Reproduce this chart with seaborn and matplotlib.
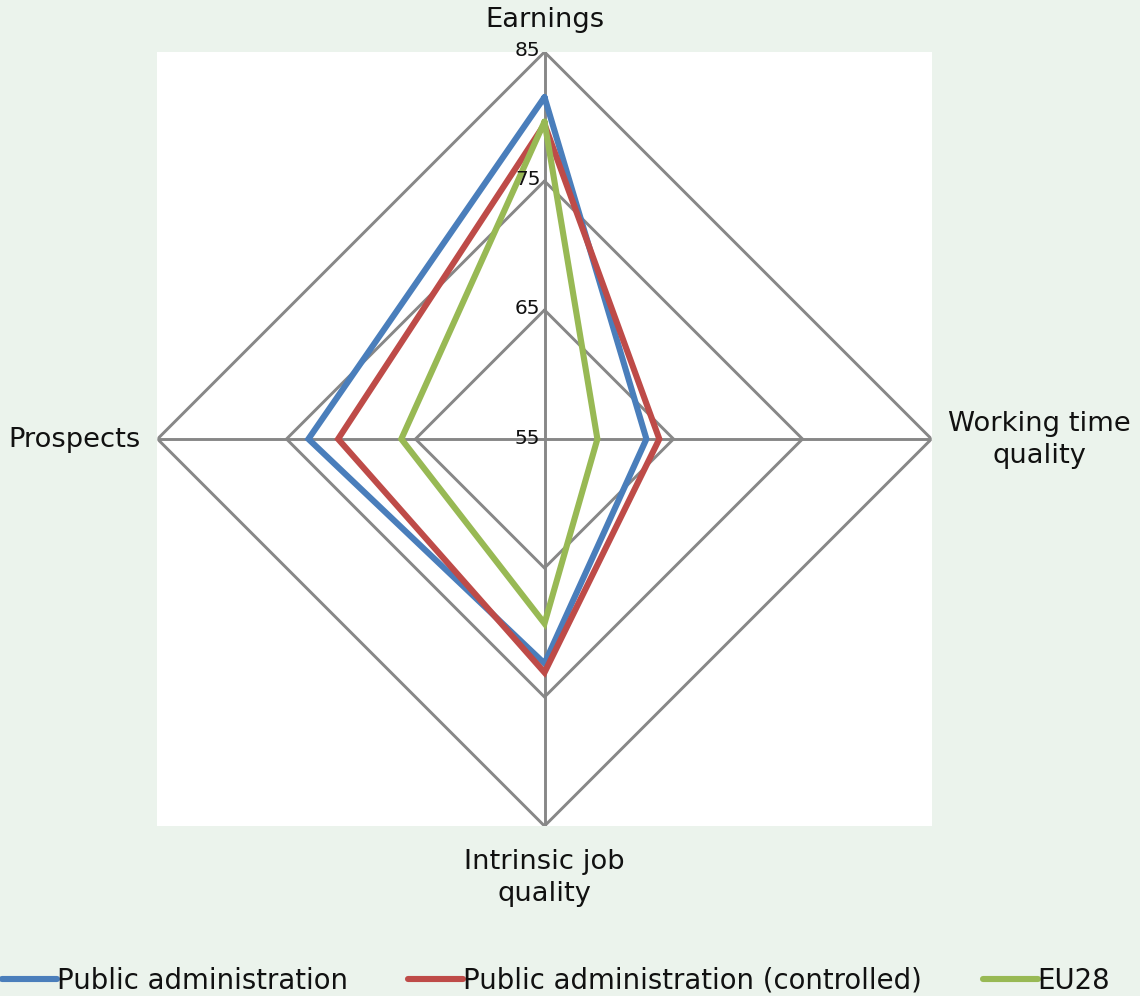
import numpy as np
import pandas as pd
import matplotlib
matplotlib.use("Agg")
import matplotlib.pyplot as plt
from matplotlib.lines import Line2D
import seaborn as sns

# Job quality dimensions (clockwise from the top) and index scores
dimensions = ["Earnings", "Working time\nquality", "Intrinsic job\nquality", "Prospects"]
public_admin = [81.5, 62.9, 72.4, 73.3]
public_admin_controlled = [79.4, 63.9, 73.1, 71.0]
eu28 = [79.6, 59.1, 69.3, 66.1]
series_names = ["Public administration", "Public administration (controlled)", "EU28"]
radial_ticks = [55, 65, 75, 85]

colors = ["#4A7EBB", "#BE4B48", "#98B954"]
grid_color = "#878787"
bg_color = "#EBF3EC"
text_color = "#111111"

sns.set_style("white")
plt.rcParams["font.family"] = ["DejaVu Sans"]

n = len(dimensions)
angles = np.linspace(0, 2 * np.pi, n, endpoint=False)
angles_closed = np.append(angles, 2 * np.pi)

# Long-form table with each polygon closed back on its first vertex
rows = []
for name, vals in zip(series_names, [public_admin, public_admin_controlled, eu28]):
    vals_closed = list(vals) + [vals[0]]
    for order, (a, v) in enumerate(zip(angles_closed, vals_closed)):
        rows.append({"series": name, "angle": a, "score": v, "order": order})
df = pd.DataFrame(rows)

W, H = 1140, 996
fig = plt.figure(figsize=(W / 100, H / 100), dpi=100, facecolor=bg_color)

# Plot box in pixels: left, top, right, bottom
L, T, R, B = 157, 52, 932, 826
box = [L / W, 1 - B / H, (R - L) / W, (B - T) / H]

bg = fig.add_axes(box)
bg.set_facecolor("white")
bg.set_xticks([])
bg.set_yticks([])
for s in bg.spines.values():
    s.set_visible(False)

ax = fig.add_axes(box, projection="polar")
ax.set_facecolor("none")
ax.set_theta_zero_location("N")
ax.set_theta_direction(-1)

# Diamond-shaped grid rings and spokes
for r in radial_ticks[1:]:
    ax.plot(angles_closed, [r] * len(angles_closed), color=grid_color, lw=2.1,
            solid_joinstyle="miter", zorder=1)
for a in angles:
    ax.plot([a, a], [radial_ticks[0], radial_ticks[-1]], color=grid_color, lw=2.1, zorder=1)

sns.lineplot(data=df, x="angle", y="score", hue="series", hue_order=series_names,
             palette=colors, sort=False, estimator=None, units="series",
             lw=4.4, solid_joinstyle="miter", legend=False, ax=ax, zorder=3)

ax.set_ylim(radial_ticks[0], radial_ticks[-1])
ax.set_xlabel("")
ax.set_ylabel("")
ax.set_xticks([])
ax.set_yticks([])
ax.grid(False)
ax.spines["polar"].set_visible(False)

# Radial tick labels along the top spoke
for r in radial_ticks:
    ax.annotate(str(r), xy=(0, r), xytext=(-4, 1), textcoords="offset pixels",
                ha="right", va="center", fontsize=14.5, color=text_color,
                annotation_clip=False, zorder=4)

# Dimension labels outside the outer ring
label_offsets = [(0, 32, "center", "center"),
                 (108, -1, "center", "center"),
                 (0, -52, "center", "center"),
                 (-17, -1, "right", "center")]
for a, lab, (dx, dy, ha, va) in zip(angles, dimensions, label_offsets):
    ax.annotate(lab, xy=(a, radial_ticks[-1]), xytext=(dx, dy), textcoords="offset pixels",
                ha=ha, va=va, multialignment="center", fontsize=19.7, color=text_color,
                linespacing=1.3, annotation_clip=False)

handles = [Line2D([0], [0], color=c, lw=4.4, solid_capstyle="round") for c in colors]
fig.legend(handles, series_names, loc="center", bbox_to_anchor=(0.4877, 0.0155),
           ncol=3, frameon=False, fontsize=19.8, handlelength=2.0, handletextpad=0.0,
           columnspacing=2.2, borderpad=0, labelcolor=text_color)

fig.savefig("out.png", dpi=100, facecolor=bg_color)
